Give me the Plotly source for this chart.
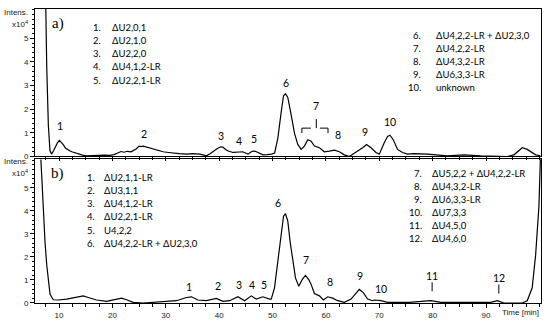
import plotly.graph_objects as go

# ---------------- data (retention time [min], intensity x10^4) ----------------
a_time = [5.6, 7.4, 7.7, 8.0, 8.3, 8.6, 9.0, 9.3, 9.7, 10.05, 10.4, 10.8, 11.2, 11.5, 12.0, 12.4, 13.0,
          13.6, 14.4, 15.2, 16.5, 17.5, 18.5, 19.5, 20.3, 21.0, 21.6, 22.2, 22.8, 23.5, 24.0, 24.5,
          25.0, 25.4, 25.8, 26.4, 27.0, 27.6, 28.5, 29.5, 30.5, 31.4, 32.5, 33.9, 35.0, 36.4, 37.6,
          38.3, 38.9, 39.6, 40.3, 40.7, 41.2, 41.7, 42.6, 43.3, 43.8, 44.4, 44.8, 45.4, 45.9, 46.3,
          46.8, 47.3, 48.2, 49.0, 49.8, 50.4, 51.0, 51.63, 52.06, 52.43, 52.86, 53.5, 54.11, 54.73,
          55.36, 55.98, 56.6, 57.23, 57.85, 58.79, 59.72, 60.65, 61.59, 62.52, 63.46, 64.39, 65.64,
          66.88, 67.63, 68.45, 69.38, 70.0, 70.93, 71.55, 72.0, 72.62, 73.42, 74.36, 75.29, 76.54,
          79.03, 82.77, 85.89, 89.01, 93.98, 95.23, 96.79, 97.72, 99.29, 100.2]
a_int = [12.0, 8.0, 3.8, 1.33, 0.25, 0.1, 0.25, 0.4, 0.58, 0.68, 0.6, 0.5, 0.36, 0.3, 0.24, 0.2, 0.15,
         0.1, 0.06, 0.03, 0.05, 0.04, 0.06, 0.05, 0.08, 0.15, 0.21, 0.18, 0.22, 0.2, 0.26, 0.33,
         0.44, 0.42, 0.44, 0.4, 0.36, 0.3, 0.25, 0.2, 0.17, 0.14, 0.12, 0.1, 0.12, 0.1, 0.03,
         0.12, 0.23, 0.33, 0.41, 0.4, 0.3, 0.23, 0.17, 0.2, 0.19, 0.2, 0.17, 0.1, 0.18, 0.23,
         0.22, 0.17, 0.07, 0.08, 0.1, 0.15, 0.78, 1.89, 2.57, 2.66, 2.5, 1.75, 0.99, 0.51,
         0.3, 0.44, 0.71, 0.65, 0.44, 0.37, 0.2, 0.23, 0.27, 0.2, 0.07, 0.0, 0.17,
         0.37, 0.51, 0.37, 0.17, 0.1, 0.58, 0.85, 0.9, 0.71, 0.3, 0.17, 0.1, 0.12,
         0.1, 0.03, 0.07, 0.03, 0.0, 0.07, 0.37, 0.3, 0.07, 0.03]

b_time = [6.0, 6.32, 6.77, 7.07, 7.38, 7.7, 8.0, 8.32, 8.93, 9.87, 11.44, 13.31, 14.54, 15.48, 17.05,
          18.92, 20.47, 21.72, 22.65, 23.89, 25.76, 28.26, 30.13, 32.0, 33.87, 34.8, 36.04, 37.6,
          39.48, 40.71, 41.96, 43.51, 44.77, 46.02, 46.95, 48.19, 49.44, 49.76, 50.37, 50.99,
          51.63, 52.06, 52.43, 52.86, 53.31, 53.79, 54.3, 54.92, 55.55, 56.17, 56.79, 57.23,
          57.85, 58.79, 59.53, 60.34, 61.27, 62.21, 63.46, 64.71, 65.64, 66.26, 67.01, 67.81,
          68.75, 69.07, 70.32, 71.55, 75.6, 79.66, 81.53, 90.88, 92.11, 93.36, 96.79, 97.72,
          98.65, 99.29, 99.91, 100.22]
b_int = [12.0, 7.5, 5.47, 3.9, 2.64, 1.65, 0.94, 0.38, 0.14, 0.13, 0.17, 0.24, 0.31, 0.24, 0.13,
         0.07, 0.14, 0.21, 0.14, 0.03, 0.0, 0.03, 0.06, 0.1, 0.24, 0.27, 0.13, 0.1,
         0.2, 0.07, 0.1, 0.27, 0.1, 0.31, 0.17, 0.27, 0.17, 0.17, 0.66, 1.79,
         3.06, 3.77, 3.88, 3.56, 2.64, 1.79, 1.09, 0.73, 1.02, 1.2, 1.02, 0.81,
         0.41, 0.31, 0.13, 0.27, 0.21, 0.1, 0.03, 0.17, 0.45, 0.59, 0.45, 0.17,
         0.1, 0.13, 0.1, 0.03, 0.03, 0.1, 0.03, 0.03, 0.1, 0.0, 0.0, 0.1,
         0.66, 2.08, 4.2, 6.5]

# peak labels: (text, time, intensity)
a_peak_text = ["1", "2", "3", "4", "5", "6", "7", "8", "9", "10"]
a_peak_x = [10.2, 25.9, 40.3, 43.7, 46.5, 52.6, 58.2, 62.2, 67.3, 72.1]
a_peak_y = [1.28, 0.95, 0.88, 0.67, 0.76, 3.13, 2.15, 0.9, 1.03, 1.45]

b_peak_text = ["1", "2", "3", "4", "5", "6", "7", "8", "9", "10", "11", "12"]
b_peak_x = [34.3, 39.8, 43.7, 46.1, 48.4, 51.0, 56.2, 60.7, 66.3, 70.4, 79.9, 92.4]
b_peak_y = [0.69, 0.76, 0.8, 0.78, 0.8, 4.33, 1.89, 0.9, 1.16, 0.62, 1.16, 1.09]

# compound lists
a_list_left_num = ["1.", "2.", "3.", "4.", "5."]
a_list_left_txt = ["ΔU2,0,1", "ΔU2,1,0", "ΔU2,2,0", "ΔU4,1,2-LR", "ΔU2,2,1-LR"]
a_list_right_num = ["6.", "7.", "8.", "9.", "10."]
a_list_right_txt = ["ΔU4,2,2-LR + ΔU2,3,0", "ΔU4,2,2-LR", "ΔU4,3,2-LR", "ΔU6,3,3-LR", "unknown"]

b_list_left_num = ["1.", "2.", "3.", "4.", "5.", "6."]
b_list_left_txt = ["ΔU2,1,1-LR", "ΔU3,1,1", "ΔU4,1,2-LR", "ΔU2,2,1-LR", "U4,2,2", "ΔU4,2,2-LR + ΔU2,3,0"]
b_list_right_num = ["7.", "8.", "9.", "10.", "11.", "12."]
b_list_right_txt = ["ΔU5,2,2 + ΔU4,2,2-LR", "ΔU4,3,2-LR", "ΔU6,3,3-LR", "ΔU7,3,3", "ΔU4,5,0", "ΔU4,6,0"]

x_ticks = [10, 20, 30, 40, 50, 60, 70, 80, 90]
y_ticks = [0, 1, 2, 3, 4, 5]

# ---------------- figure ----------------
W, H = 550, 328
ML, MR, MT, MB = 35, 8, 8, 19
PW, PH = W - ML - MR, H - MT - MB

def px_x(px):
    return (px - ML) / PW

def px_y(py):
    return (H - MB - py) / PH

LINE = dict(color="black", width=1.2)
fig = go.Figure()
fig.add_trace(go.Scatter(x=a_time, y=a_int, mode="lines", line=LINE, xaxis="x", yaxis="y",
                         showlegend=False, hoverinfo="skip"))
fig.add_trace(go.Scatter(x=b_time, y=b_int, mode="lines", line=LINE, xaxis="x2", yaxis="y2",
                         showlegend=False, hoverinfo="skip"))

tickfont = dict(family="Liberation Sans, Arial", size=8, color="#222")
xcommon = dict(range=[5.5, 100.3], tickmode="array", tickvals=x_ticks, ticks="outside", ticklen=4,
               tickcolor="black", showline=True, linecolor="black", linewidth=1, mirror=True,
               showgrid=False, zeroline=False, tickfont=tickfont,
               minor=dict(tickmode="linear", tick0=0, dtick=2.5, ticks="outside", ticklen=2.5,
                          tickcolor="black", showgrid=False))
ycommon = dict(range=[0, 6.24], tickmode="array", tickvals=y_ticks, ticks="outside", ticklen=4,
               tickcolor="black", showline=True, linecolor="black", linewidth=1, mirror=True,
               showgrid=False, zeroline=False, tickfont=tickfont,
               minor=dict(tickmode="linear", tick0=0, dtick=0.2, ticks="outside", ticklen=2,
                          tickcolor="black", showgrid=False))

fig.update_layout(
    width=W, height=H, margin=dict(l=ML, r=MR, t=MT, b=MB, pad=0),
    paper_bgcolor="white", plot_bgcolor="white",
    xaxis=dict(xcommon, anchor="y", showticklabels=False, domain=[0, 1]),
    yaxis=dict(ycommon, anchor="x", domain=[px_y(159), 1]),
    xaxis2=dict(xcommon, anchor="y2", matches="x", domain=[0, 1]),
    yaxis2=dict(ycommon, anchor="x2", domain=[0, px_y(162)]),
)

ann = []
lab_font = dict(family="Lato, Open Sans, sans-serif", size=10.5, color="black")
list_font = dict(family="Lato, Open Sans, sans-serif", size=9.5, color="black")
small = dict(family="Liberation Sans, Arial", size=8, color="#222")

for t, x, y in zip(a_peak_text, a_peak_x, a_peak_y):
    ann.append(dict(text=t, x=x, y=y, xref="x", yref="y", showarrow=False, font=lab_font,
                    xanchor="center", yanchor="middle"))
for t, x, y in zip(b_peak_text, b_peak_x, b_peak_y):
    ann.append(dict(text=t, x=x, y=y, xref="x2", yref="y2", showarrow=False, font=lab_font,
                    xanchor="center", yanchor="middle"))

def add_list(nums, txts, num_x, txt_x, y0, dy, num_anchor):
    for i, (n, t) in enumerate(zip(nums, txts)):
        yy = px_y(y0 + i * dy)
        ann.append(dict(text=n, x=px_x(num_x), y=yy, xref="paper", yref="paper", showarrow=False,
                        xanchor=num_anchor, yanchor="middle", font=list_font))
        ann.append(dict(text=t, x=px_x(txt_x), y=yy, xref="paper", yref="paper", showarrow=False,
                        xanchor="left", yanchor="middle", font=list_font))

add_list(a_list_left_num, a_list_left_txt, 91.5, 110, 27.3, 13.35, "left")
add_list(a_list_right_num, a_list_right_txt, 424, 434.3, 35, 13.35, "right")
add_list(b_list_left_num, b_list_left_txt, 85, 101.7, 180.7, 13.4, "left")
add_list(b_list_right_num, b_list_right_txt, 425, 431, 176.7, 13.33, "right")

serif = dict(family="Liberation Serif, Times New Roman", size=15, color="black")
ann.append(dict(text="a)", x=px_x(58), y=px_y(23), xref="paper", yref="paper", showarrow=False,
                xanchor="center", yanchor="middle", font=serif))
ann.append(dict(text="b)", x=px_x(57.5), y=px_y(176), xref="paper", yref="paper", showarrow=False,
                xanchor="center", yanchor="middle", font=serif))

for ytop in (11.5, 164):
    ann.append(dict(text="Intens.", x=px_x(30), y=px_y(ytop), xref="paper", yref="paper",
                    showarrow=False, xanchor="right", yanchor="middle", font=small))
    ann.append(dict(text="x10<sup>4</sup>", x=px_x(30), y=px_y(ytop + 12), xref="paper", yref="paper",
                    showarrow=False, xanchor="right", yanchor="middle", font=small))
ann.append(dict(text="Time [min]", x=1, y=px_y(319), xref="paper", yref="paper", showarrow=False,
                xanchor="right", yanchor="middle", font=small))
fig.update_layout(annotations=ann)

# dashed markers
dash = dict(color="black", width=1, dash="dash")
shapes = [
    dict(type="line", xref="x", yref="y", x0=55.5, x1=60.4, y0=1.2, y1=1.2, line=dash),
    dict(type="line", xref="x", yref="y", x0=55.5, x1=55.5, y0=1.2, y1=0.99, line=dash),
    dict(type="line", xref="x", yref="y", x0=60.4, x1=60.4, y0=1.2, y1=0.99, line=dash),
    dict(type="line", xref="x", yref="y", x0=58.2, x1=58.2, y0=1.2, y1=1.8, line=dash),
    dict(type="line", xref="x2", yref="y2", x0=79.9, x1=79.9, y0=0.9, y1=0.38, line=dash),
    dict(type="line", xref="x2", yref="y2", x0=92.4, x1=92.4, y0=0.8, y1=0.38, line=dash),
]
fig.update_layout(shapes=shapes)

fig.write_html("out.html", config={"displayModeBar": False},
               post_script="document.body.style.margin='0px';")
